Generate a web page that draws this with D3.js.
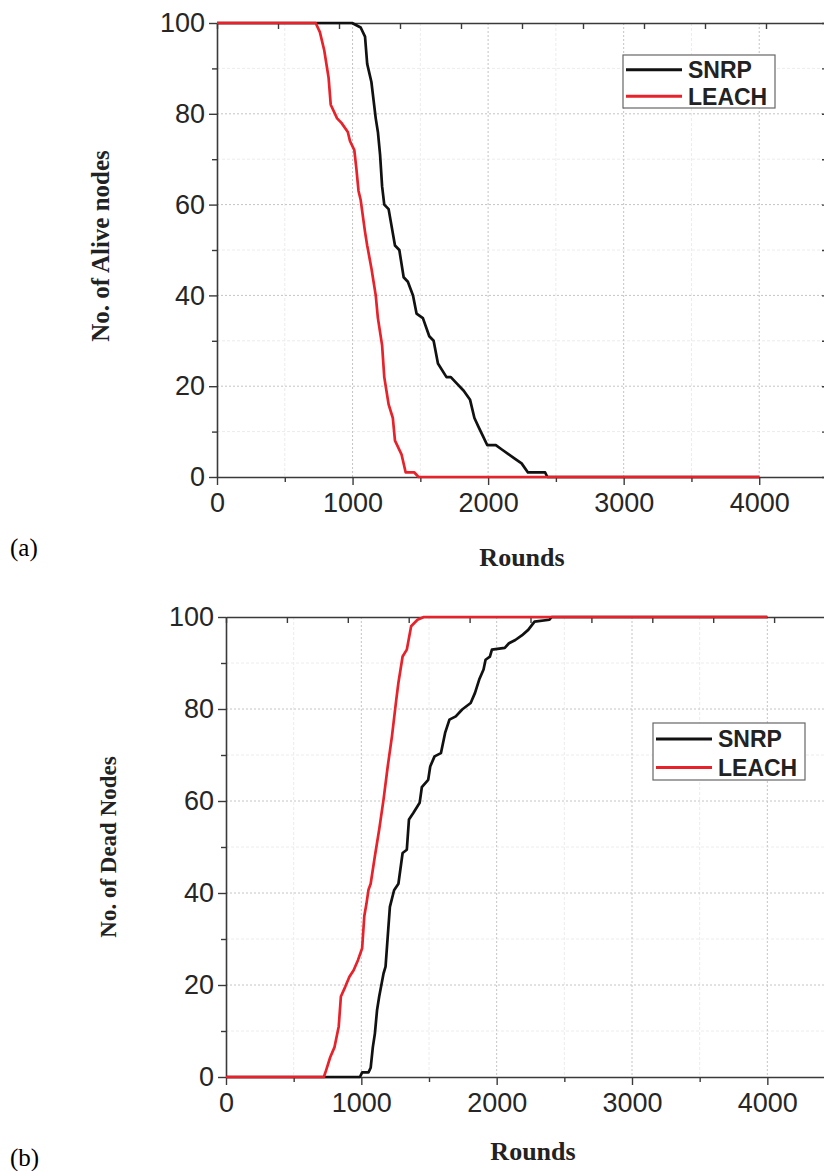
<!DOCTYPE html>
<html>
<head>
<meta charset="utf-8">
<script src="https://cdn.jsdelivr.net/npm/d3@7"></script>
<style>
  html, body { margin: 0; padding: 0; background: #fff; overflow: hidden; }
  svg { display: block; }
</style>
</head>
<body>
<svg id="chart" width="824" height="1171"></svg>
<script>
// ---------------- DATA ----------------
const xTicks = [0, 1000, 2000, 3000, 4000];
const yTicks = [0, 20, 40, 60, 80, 100];
const seriesNames = ["SNRP", "LEACH"];
const seriesColors = ["#111111", "#e8222a"];

// (a) alive nodes: [round, nodes]
const aliveSNRP = [[0,100],[997,100],[1060,99],[1092,97],[1108,91],[1139,87],[1171,79],[1187,76],[1203,71],[1218,64],[1234,60],[1266,59],[1313,51],[1345,50],[1377,44],[1408,43],[1446,40],[1472,36],[1519,35],[1566,31],[1598,30],[1630,25],[1693,22],[1725,22],[1756,21],[1820,19],[1867,17],[1899,13],[1930,11],[1962,9],[1994,7],[2057,7],[2104,6],[2152,5],[2199,4],[2247,3],[2294,1],[2421,1],[2437,0],[4000,0]];
const aliveLEACH = [[0,100],[728,100],[759,98],[791,94],[823,88],[839,82],[886,79],[918,78],[965,76],[981,74],[1013,72],[1028,68],[1044,63],[1060,61],[1092,54],[1108,51],[1139,46],[1155,43],[1171,40],[1187,35],[1218,29],[1234,22],[1250,19],[1266,16],[1297,13],[1313,8],[1361,5],[1392,1],[1456,1],[1487,0],[4000,0]];

// (b) dead nodes: [round, nodes]
const deadSNRP = [[0,0],[990,0],[1006,1],[1053,1],[1069,2],[1085,6.5],[1100,9.4],[1116,14.5],[1132,17.5],[1148,20],[1164,22.5],[1179,24],[1195,30.5],[1211,37],[1242,40.6],[1274,42],[1305,48.7],[1336,49.4],[1352,56],[1384,57.4],[1431,59.6],[1447,63],[1494,64.6],[1509,67.5],[1541,69.7],[1588,70.4],[1619,74.8],[1651,77.7],[1698,78.4],[1745,79.9],[1808,81.3],[1840,83.5],[1871,86.4],[1903,88.6],[1918,90.7],[1950,91.4],[1965,92.9],[2060,93.3],[2091,94.3],[2138,95],[2186,96],[2233,97.2],[2280,99],[2390,99.4],[2406,100],[4000,100]];
const deadLEACH = [[0,0],[723,0],[739,1.4],[770,4.3],[802,6.5],[833,11],[849,17.5],[881,19.6],[912,21.8],[943,23.2],[975,25.4],[1006,28],[1022,35],[1038,37.7],[1053,40.7],[1069,42],[1100,48],[1132,53.8],[1164,60.3],[1195,67.5],[1226,74],[1258,82],[1274,85.7],[1305,91.4],[1336,92.9],[1368,98],[1415,99.4],[1462,100],[4000,100]];

// ---------------- DRAW ----------------
const svg = d3.select("#chart");
const TICK_FONT = "'Liberation Sans', Arial, sans-serif";
const TITLE_FONT = "'Liberation Serif', 'Times New Roman', serif";

function drawPanel(cfg) {
  const g = svg.append("g");
  const x = d3.scaleLinear().domain([0, 4500]).range([cfg.left, cfg.right]);
  const xTop = d3.scaleLinear().domain([0, 5000]).range([cfg.left, cfg.right]);
  const y = d3.scaleLinear().domain([0, 100]).range([cfg.bottom, cfg.top]);

  const minorX = d3.range(500, 4500, 1000);
  const minorY = d3.range(10, 100, 20);

  // minor grid
  g.append("g").selectAll("line").data(minorX).join("line")
    .attr("x1", d => x(d)).attr("x2", d => x(d)).attr("y1", cfg.top).attr("y2", cfg.bottom)
    .attr("stroke", "#ececec").attr("stroke-width", 1).attr("stroke-dasharray", "3,2");
  g.append("g").selectAll("line").data(minorY).join("line")
    .attr("x1", cfg.left).attr("x2", cfg.right).attr("y1", d => y(d)).attr("y2", d => y(d))
    .attr("stroke", "#ececec").attr("stroke-width", 1).attr("stroke-dasharray", "3,2");
  // major grid
  g.append("g").selectAll("line").data(xTicks.filter(d => d > 0)).join("line")
    .attr("x1", d => x(d)).attr("x2", d => x(d)).attr("y1", cfg.top).attr("y2", cfg.bottom)
    .attr("stroke", "#c4c4c4").attr("stroke-width", 1).attr("stroke-dasharray", "2,2");
  g.append("g").selectAll("line").data(yTicks.filter(d => d > 0 && d < 100)).join("line")
    .attr("x1", cfg.left).attr("x2", cfg.right).attr("y1", d => y(d)).attr("y2", d => y(d))
    .attr("stroke", "#c4c4c4").attr("stroke-width", 1).attr("stroke-dasharray", "2,2");

  // axes
  const axisColor = "#3a3a3a";
  const styleAxis = sel => {
    sel.select(".domain").attr("stroke", axisColor).attr("stroke-width", 1.6);
    sel.selectAll(".tick line").attr("stroke", axisColor).attr("stroke-width", 1.4);
    sel.selectAll("text").attr("font-family", TICK_FONT).attr("font-size", 27).attr("fill", "#262626");
  };
  // minor ticks
  g.append("g").attr("transform", `translate(0,${cfg.bottom})`)
    .call(d3.axisBottom(x).tickValues(d3.range(500, 4500, 1000)).tickSize(5).tickFormat(""))
    .call(styleAxis).call(s => s.select(".domain").remove());
  g.append("g").attr("transform", `translate(${cfg.left},0)`)
    .call(d3.axisLeft(y).tickValues(d3.range(10, 100, 20)).tickSize(5).tickFormat(""))
    .call(styleAxis).call(s => s.select(".domain").remove());
  // top axis (no labels, inward ticks)
  g.append("g").attr("transform", `translate(0,${cfg.top})`)
    .call(d3.axisTop(xTop).tickValues(d3.range(0, 5001, 500)).tickSizeInner(-6).tickSizeOuter(0).tickFormat(""))
    .call(styleAxis);
  // right axis (no labels, inward ticks)
  g.append("g").attr("transform", `translate(${cfg.right},0)`)
    .call(d3.axisRight(y).tickValues(d3.range(0, 101, 10)).tickSizeInner(-5).tickSizeOuter(0).tickFormat(""))
    .call(styleAxis);
  // major bottom / left
  g.append("g").attr("transform", `translate(0,${cfg.bottom})`)
    .call(d3.axisBottom(x).tickValues(xTicks).tickSizeInner(8).tickSizeOuter(0).tickPadding(8).tickFormat(d3.format("d")))
    .call(styleAxis)
    .call(s => s.selectAll("text").attr("dy", "0.72em"));
  g.append("g").attr("transform", `translate(${cfg.left},0)`)
    .call(d3.axisLeft(y).tickValues(yTicks).tickSizeInner(8).tickSizeOuter(0).tickPadding(4).tickFormat(d3.format("d")))
    .call(styleAxis);

  // lines
  const line = d3.line().x(d => x(d[0])).y(d => y(d[1]));
  cfg.series.forEach((s, i) => {
    g.append("path").datum(s)
      .attr("d", line).attr("fill", "none")
      .attr("stroke", seriesColors[i]).attr("stroke-width", 2.7)
      .attr("stroke-linejoin", "round");
  });

  // legend
  const L = cfg.legend;
  g.append("rect").attr("x", L.x).attr("y", L.y).attr("width", L.w).attr("height", L.h)
    .attr("fill", "#fff").attr("stroke", "#666").attr("stroke-width", 1.2);
  seriesNames.forEach((name, i) => {
    const ly = L.y + L.h * (i === 0 ? 0.28 : 0.78);
    g.append("line").attr("x1", L.x + 3).attr("x2", L.x + 59).attr("y1", ly).attr("y2", ly)
      .attr("stroke", seriesColors[i]).attr("stroke-width", 3);
    g.append("text").attr("x", L.x + 65).attr("y", ly).attr("dy", "0.36em")
      .attr("font-family", TICK_FONT).attr("font-weight", "bold").attr("font-size", 23)
      .attr("fill", "#222").text(name);
  });

  // titles
  g.append("text")
    .attr("transform", `translate(${cfg.ytitleX},${(cfg.top + cfg.bottom) / 2 + cfg.ytitleDy}) rotate(-90)`)
    .attr("text-anchor", "middle").attr("dy", "0.35em")
    .attr("font-family", TITLE_FONT).attr("font-weight", "bold").attr("font-size", cfg.ytitleSize)
    .attr("fill", "#222").text(cfg.ytitle);
  g.append("text").attr("x", cfg.xtitleX).attr("y", cfg.xtitleY)
    .attr("text-anchor", "middle")
    .attr("font-family", TITLE_FONT).attr("font-weight", "bold").attr("font-size", 26)
    .attr("fill", "#222").text("Rounds");
  g.append("text").attr("x", 10).attr("y", cfg.tagY)
    .attr("font-family", TITLE_FONT).attr("font-size", 25).attr("fill", "#000").text(cfg.tag);
}

drawPanel({
  left: 217, right: 827, top: 23, bottom: 477,
  series: [aliveSNRP, aliveLEACH],
  legend: { x: 623, y: 55, w: 152, h: 53 },
  ytitle: "No. of Alive nodes", ytitleX: 100, ytitleDy: -4, ytitleSize: 25,
  xtitleX: 522, xtitleY: 566, tag: "(a)", tagY: 556
});
drawPanel({
  left: 226, right: 835, top: 617, bottom: 1077,
  series: [deadSNRP, deadLEACH],
  legend: { x: 653, y: 723, w: 152, h: 57 },
  ytitle: "No. of Dead Nodes", ytitleX: 108, ytitleDy: 0, ytitleSize: 23,
  xtitleX: 533, xtitleY: 1160, tag: "(b)", tagY: 1166
});
</script>
</body>
</html>
